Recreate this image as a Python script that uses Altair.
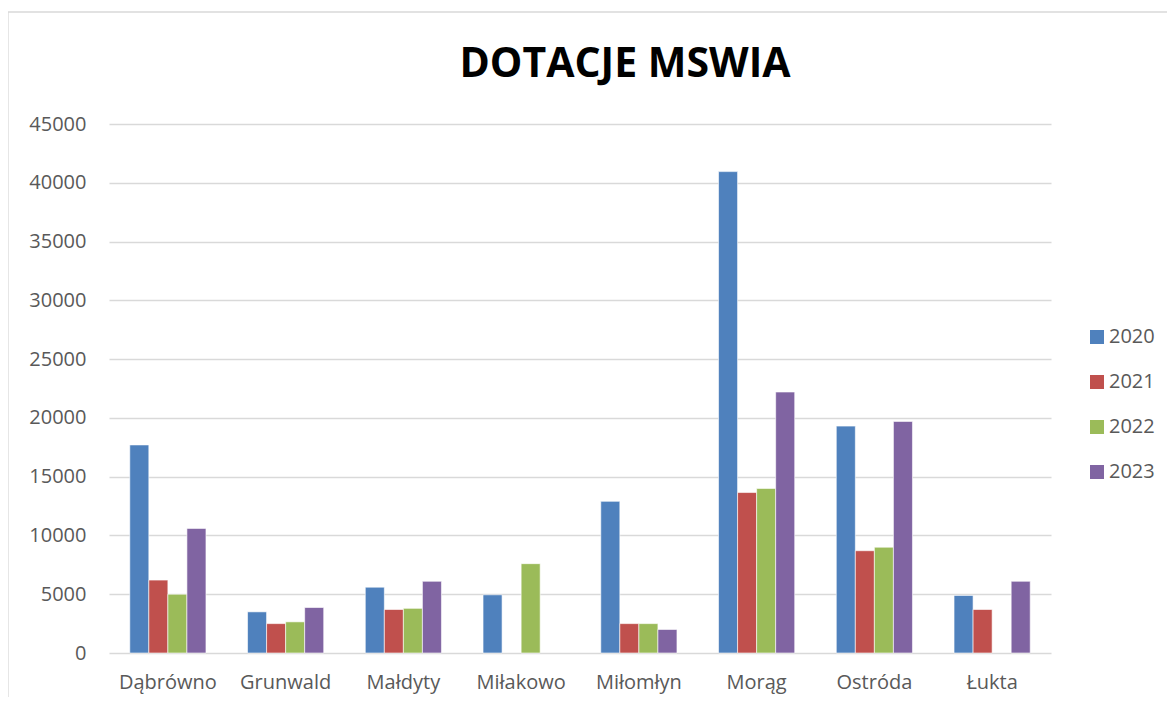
import altair as alt
import pandas as pd

categories = ["Dąbrówno", "Grunwald", "Małdyty", "Miłakowo", "Miłomłyn", "Morąg", "Ostróda", "Łukta"]
years = ["2020", "2021", "2022", "2023"]
v2020 = [17700, 3500, 5600, 4950, 12900, 40950, 19300, 4900]
v2021 = [6200, 2500, 3700, None, 2500, 13650, 8700, 3700]
v2022 = [5000, 2650, 3800, 7600, 2500, 14000, 9000, None]
v2023 = [10600, 3870, 6100, None, 2000, 22200, 19700, 6100]
colors = ["#4F81BD", "#C0504D", "#9BBB59", "#8064A2"]
title_text = ["DOTACJE MSWIA"]

rows = []
for year, series in zip(years, [v2020, v2021, v2022, v2023]):
    for cat, val in zip(categories, series):
        if val is not None:
            rows.append({"gmina": cat, "rok": year, "wartosc": val})
df = pd.DataFrame(rows)

FONT = "Open Sans"
LABEL = "#595959"

bars = alt.Chart(df).mark_bar(stroke="white", strokeWidth=0.6).encode(
    x=alt.X("gmina:N", sort=categories, title=None,
            scale=alt.Scale(paddingInner=0.353, paddingOuter=0.1765),
            axis=alt.Axis(labelAngle=0, labelFont=FONT, labelFontSize=20, labelColor=LABEL,
                          labelPadding=19, domain=False, ticks=False, grid=False)),
    xOffset=alt.XOffset("rok:N", sort=years, scale=alt.Scale(domain=years, paddingInner=0, paddingOuter=0)),
    y=alt.Y("wartosc:Q", title=None,
            scale=alt.Scale(domain=[0, 45000], nice=False),
            axis=alt.Axis(values=list(range(0, 45001, 5000)), format="d", labelFont=FONT, labelFontSize=20,
                          labelColor=LABEL, labelPadding=23, domain=False, ticks=False,
                          grid=True, gridColor="#d9d9d9", gridWidth=1.3)),
    color=alt.Color("rok:N", sort=years, scale=alt.Scale(domain=years, range=colors),
                    legend=alt.Legend(title=None, orient="none", legendX=978, legendY=203,
                                      symbolType="square", symbolSize=196, symbolStrokeWidth=0,
                                      labelFont=FONT, labelFontSize=20, labelColor=LABEL,
                                      labelOffset=2, rowPadding=25, padding=0)),
)

one = alt.Data(values=[{"a": 1}])
border_v = alt.Chart(one).mark_rule(color="#d9d9d9", strokeWidth=1.3).encode(
    x=alt.value(-101), y=alt.value(-112), y2=alt.value(620))
border_h = alt.Chart(one).mark_rule(color="#d9d9d9", strokeWidth=1.3).encode(
    x=alt.value(-101), x2=alt.value(1100), y=alt.value(-112))

title = alt.Chart(alt.Data(values=[{"t": title_text[0]}])).mark_text(
    font=FONT, fontSize=41, fontWeight="bold", color="black", align="center", baseline="alphabetic"
).encode(text="t:N", x=alt.value(516), y=alt.value(-47))

chart = alt.layer(border_v, border_h, title, bars).properties(
    width=942, height=529,
    background="white",
    autosize=alt.AutoSizeParams(type="none"),
    padding={"left": 101, "top": 116, "right": 116, "bottom": 44},
).configure_view(stroke="transparent", strokeWidth=0)

chart.save("out.html", embed_options={"renderer": "svg", "actions": False})
